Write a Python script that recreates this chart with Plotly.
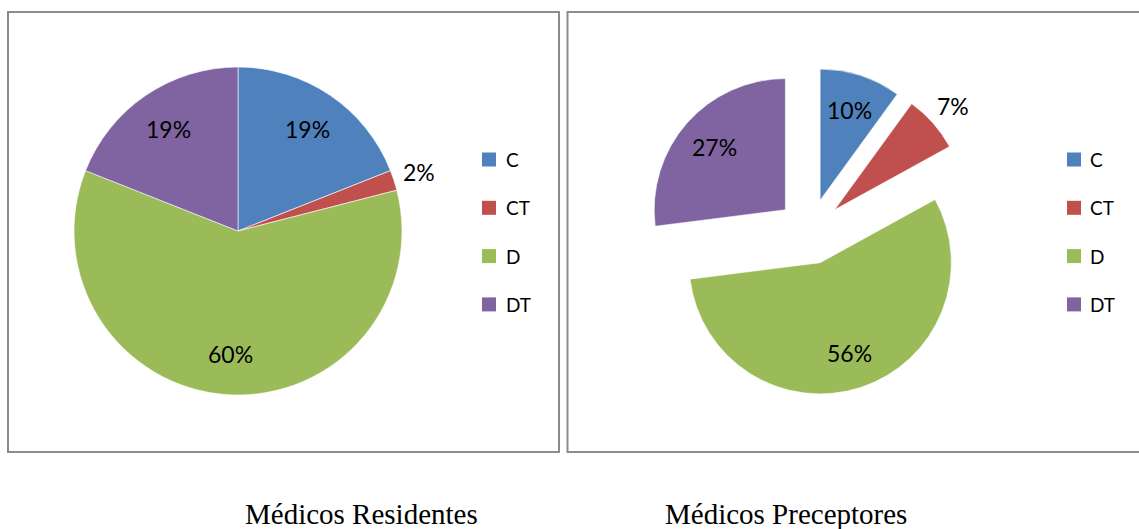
import math
import plotly.graph_objects as go

# Survey answers by group (percent of respondents)
categories = ["C", "CT", "D", "DT"]
residentes = [19, 2, 60, 19]
preceptores = [10, 7, 56, 27]
panel_titles = ["Médicos Residentes", "Médicos Preceptores"]
colors = ["#4F81BD", "#C0504D", "#9BBB59", "#8064A2"]

W, H = 1139, 529


def px(x):
    return x / W


def py(y):
    return 1 - y / H


label_font = dict(family="Lato, Calibri, sans-serif", size=23, color="#000000")

# Pie placement (pixels): centre x, centre y, outer size (radius incl. pull)
pies = [
    dict(values=residentes, cx=238, cy=231, size=164, pull=0.0,
         inside_frac=0.75, outside=[False, True, False, False]),
    dict(values=preceptores, cx=810, cy=231.5, size=164, pull=0.25,
         inside_frac=0.72, outside=[False, True, False, False]),
]

fig = go.Figure()
annotations = []

for p in pies:
    fig.add_trace(go.Pie(
        labels=categories, values=p["values"], sort=False, direction="clockwise",
        rotation=0, pull=[p["pull"]] * len(categories),
        marker=dict(colors=colors, line=dict(color="white", width=0.6)),
        textinfo="none",
        domain=dict(x=[px(p["cx"] - p["size"]), px(p["cx"] + p["size"])],
                    y=[py(p["cy"] + p["size"]), py(p["cy"] - p["size"])]),
        showlegend=False, hoverinfo="label+percent",
    ))

    # Percentage labels along each slice's mid-angle
    r = p["size"] / (1 + p["pull"])
    total = sum(p["values"])
    cum = 0
    for v, out in zip(p["values"], p["outside"]):
        mid = 2 * math.pi * (cum + v / 2) / total
        cum += v
        sx, sy = math.sin(mid), -math.cos(mid)
        vx = p["cx"] + p["pull"] * r * sx
        vy = p["cy"] + p["pull"] * r * sy
        dist = r + 26 if out else r * p["inside_frac"]
        annotations.append(dict(
            x=px(vx + dist * sx), y=py(vy + dist * sy), xref="paper", yref="paper",
            text=f"{v}%", showarrow=False, xanchor="center", yanchor="middle",
            font=label_font))

shapes = []

# Panel frames
border = dict(color="#8C8C8C", width=2)
for x0, x1 in [(8, 559), (567.5, 1160)]:
    shapes.append(dict(type="rect", xref="paper", yref="paper",
                       x0=px(x0), x1=px(x1), y0=py(452), y1=py(12),
                       line=border, fillcolor="rgba(0,0,0,0)", layer="below"))

# Legends beside each pie
legend_cols = [(482, 504), (1067, 1088)]
for sq_x, txt_x in legend_cols:
    for i, (cat, col) in enumerate(zip(categories, colors)):
        yc = 159.5 + 48.3 * i
        shapes.append(dict(type="rect", xref="paper", yref="paper",
                           x0=px(sq_x), x1=px(sq_x + 14),
                           y0=py(yc + 7), y1=py(yc - 7),
                           fillcolor=col, line=dict(width=0)))
        annotations.append(dict(x=px(txt_x), y=py(yc), xref="paper", yref="paper",
                                text=cat, showarrow=False, xanchor="left",
                                yanchor="middle",
                                font=dict(family="Lato, Calibri, sans-serif",
                                          size=19, color="#000000")))

# Captions under the panels
for title, xc in zip(panel_titles, [361.5, 785.5]):
    annotations.append(dict(x=px(xc), y=py(514), xref="paper", yref="paper",
                            text=title, showarrow=False, xanchor="center",
                            yanchor="middle",
                            font=dict(family="Liberation Serif, Times New Roman, serif",
                                      size=29, color="#000000")))

fig.update_layout(
    width=W, height=H,
    margin=dict(l=0, r=0, t=0, b=0),
    paper_bgcolor="white", plot_bgcolor="white",
    shapes=shapes, annotations=annotations,
    showlegend=False,
)

fig.write_html("out.html")
